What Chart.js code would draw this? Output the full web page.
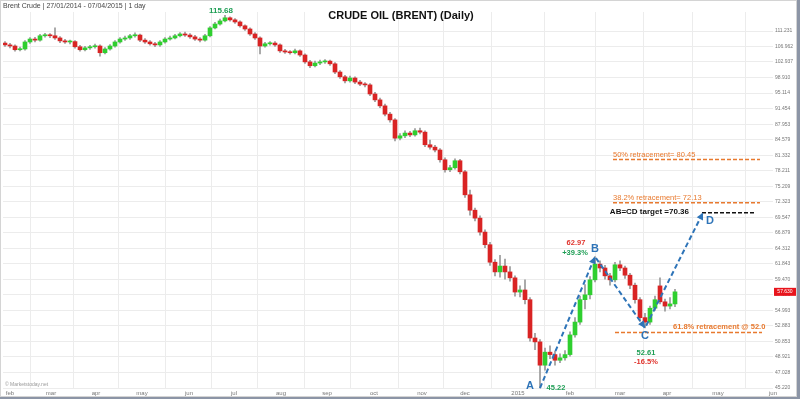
<!DOCTYPE html>
<html>
<head>
<meta charset="utf-8">
<script src="https://cdn.jsdelivr.net/npm/chart.js@4/dist/chart.umd.min.js"></script>
<style>
html,body{margin:0;padding:0;background:#fff}
#wrap{width:800px;height:399px}
</style>
</head>
<body>
<div id="wrap"><canvas id="myChart" width="800" height="399"></canvas></div>
<script>
// daily candles, Brent, 27/01/2014 - 07/04/2015
var opens=[107.9,107.4,107.1,106.1,106.3,108.2,109.0,108.7,109.9,110.1,
109.9,109.3,108.5,108.2,108.3,106.9,106.1,106.6,106.9,107.1,
105.3,106.3,107.1,108.2,109.0,109.3,109.9,110.1,108.7,108.2,
107.7,107.4,108.2,109.0,109.3,109.9,110.4,110.1,109.6,109.0,
108.7,109.9,112.1,113.2,114.1,115.0,114.4,113.8,112.7,111.8,
110.4,109.3,107.1,107.7,107.9,107.4,105.8,105.5,105.3,105.8,
104.7,102.9,101.9,102.6,102.9,103.1,102.4,100.3,99.1,98.1,
98.8,97.8,97.3,97.1,94.9,93.5,92.1,90.2,88.9,84.9,
85.4,86.0,85.6,86.5,86.2,83.5,83.0,82.4,80.4,78.4,
78.8,80.2,78.0,73.6,70.8,69.4,67.0,64.9,62.1,60.6,
61.5,60.6,59.7,57.6,57.9,56.5,51.3,50.8,47.9,49.5,
49.2,48.5,48.8,49.2,51.7,53.4,56.5,57.2,59.4,61.8,
61.2,60.0,59.4,61.7,61.2,60.1,58.6,56.5,54.0,53.4,
55.3,58.5,56.2,55.6,55.9]
var highs=[108.3,107.8,107.4,106.8,108.6,109.4,109.5,110.3,110.6,110.5,
112.1,109.7,108.9,108.7,108.6,107.3,107.0,107.3,107.6,107.4,
106.7,107.5,108.6,109.4,109.8,110.3,110.7,110.4,109.1,108.6,
108.1,108.6,109.4,109.8,110.3,110.8,110.9,110.5,110.0,109.4,
110.3,112.5,113.7,114.6,115.68,115.3,114.8,114.1,113.0,112.1,
110.8,109.6,108.1,108.3,108.3,107.7,106.2,105.9,106.3,106.1,
105.0,103.3,103.1,103.4,103.5,103.4,102.7,100.7,99.5,99.3,
99.1,98.2,97.7,97.4,95.3,93.9,92.5,90.6,89.2,85.9,
86.5,86.4,87.0,87.1,86.5,84.5,83.4,82.7,80.8,79.3,
80.6,80.5,78.3,74.5,71.2,69.8,67.4,65.3,62.5,63.2,
62.6,61.4,60.0,58.5,59.4,56.8,51.9,51.1,50.0,50.3,
49.6,49.3,49.7,52.1,54.0,57.0,58.7,59.9,62.97,62.3,
61.6,60.4,62.1,62.3,61.5,60.4,58.9,56.8,54.6,55.6,
57.0,59.7,56.6,56.8,58.0]
var lows=[107.0,106.6,105.7,105.8,106.0,107.8,108.2,108.4,109.5,109.4,
108.9,108.0,107.8,107.7,106.5,105.7,105.8,106.2,106.5,104.4,
105.0,106.0,106.8,107.9,108.6,108.9,109.5,108.3,107.8,107.3,
106.9,107.0,107.9,108.7,109.0,109.6,109.7,109.2,108.6,108.2,
108.4,109.6,111.8,112.9,113.8,114.0,113.4,112.3,111.4,110.0,
108.9,105.0,106.8,107.3,107.0,105.4,105.1,104.9,105.0,104.3,
102.5,101.4,101.6,102.2,102.5,102.0,99.9,98.7,97.6,97.8,
97.4,96.9,96.6,94.5,93.1,91.7,89.8,88.4,84.3,84.5,
85.0,85.2,85.3,85.8,83.1,82.6,82.0,79.9,77.9,78.0,
78.5,77.6,73.1,69.9,68.9,66.5,64.4,61.6,60.0,59.8,
59.5,59.2,57.0,56.9,55.9,50.9,49.8,45.22,47.3,48.7,
47.9,48.2,48.5,49.0,51.4,53.1,55.2,56.6,59.1,60.6,
59.5,58.6,59.1,60.8,59.6,58.1,56.0,53.5,52.61,53.1,
55.0,55.9,54.9,55.2,55.5]
var closes=[107.4,107.1,106.1,106.3,108.2,109.0,108.7,109.9,110.1,109.9,
109.3,108.5,108.2,108.3,106.9,106.1,106.6,106.9,107.1,105.3,
106.3,107.1,108.2,109.0,109.3,109.9,110.1,108.7,108.2,107.7,
107.4,108.2,109.0,109.3,109.9,110.4,110.1,109.6,109.0,108.7,
109.9,112.1,113.2,114.1,115.0,114.4,113.8,112.7,111.8,110.4,
109.3,107.1,107.7,107.9,107.4,105.8,105.5,105.3,105.8,104.7,
102.9,101.9,102.6,102.9,103.1,102.4,100.3,99.1,98.1,98.8,
97.8,97.3,97.1,94.9,93.5,92.1,90.2,88.9,84.9,85.4,
86.0,85.6,86.5,86.2,83.5,83.0,82.4,80.4,78.4,78.8,
80.2,78.0,73.6,70.8,69.4,67.0,64.9,62.1,60.6,61.5,
60.6,59.7,57.6,57.9,56.5,51.3,50.8,47.9,49.5,49.2,
48.5,48.8,49.2,51.7,53.4,56.5,57.2,59.4,61.8,61.2,
60.0,59.4,61.7,61.2,60.1,58.6,56.5,54.0,53.4,55.3,
56.5,56.2,55.6,55.9,57.63]

var monthPos=[1,9.2,18.2,27.4,36.8,45.8,55.2,64.4,73.8,83.4,92,102.6,113,123,132.4,142.6,153.6]
var monthLabels=['feb','mar','apr','may','jun','jul','aug','sep','oct','nov','dec','2015','feb','mar','apr','may','jun']
var yTicks=[45.220,47.028,48.921,50.853,52.883,54.993,57.186,59.470,61.843,64.312,66.879,69.547,
72.323,75.209,78.211,81.332,84.579,87.953,91.454,95.114,98.910,102.937,106.962,111.231]

var waveNames=['A','B','C','D']
var waveX=[107,118,128,139.6]
var waveY=[45.22,62.97,52.61,70.36]
var fibNames=['50% retracement= 80.45','38.2% retracement= 72.13','61.8% retracement @ 52.0']
var fibLevels=[80.45,72.13,52.0]
var fibFrom=[121.6,121.6,122]
var fibTo=[151,151,151.4]
var targetLevel=70.36, targetFrom=139.4, targetTo=150
var lastPrice=57.63
var highIdx=44, highPrice=115.68

var GREEN='#2fcf2f', RED='#d92424', BLUE='#2e74b8', ORANGE='#e8792e'

var wickData=[], bodyData=[], bodyColors=[]
for(var i=0;i<closes.length;i++){
    wickData.push({x:i,y:[lows[i],highs[i]]})
    bodyData.push({x:i,y:[opens[i],closes[i]]})
    bodyColors.push(closes[i]>=opens[i]?GREEN:RED)
}

var datasets=[
    {type:'bar',data:wickData,backgroundColor:'#999',barThickness:1,grouped:false,order:3},
    {type:'bar',data:bodyData,backgroundColor:bodyColors,barThickness:4,minBarLength:1,grouped:false,order:2},
    {type:'line',data:waveX.map(function(x,i){return {x:x,y:waveY[i]}}),borderColor:BLUE,borderWidth:2,
        borderDash:[5,3],pointRadius:0,fill:false,order:0}
]
fibLevels.forEach(function(v,i){
    datasets.push({type:'line',data:[{x:fibFrom[i],y:v},{x:fibTo[i],y:v}],borderColor:ORANGE,
        borderWidth:1.5,borderDash:[4,2],pointRadius:0,fill:false,order:1})
})
datasets.push({type:'line',data:[{x:targetFrom,y:targetLevel},{x:targetTo,y:targetLevel}],borderColor:'#111',
    borderWidth:1.5,borderDash:[4,2],pointRadius:0,fill:false,order:1})

function txt(ctx,s,x,y,font,color,align){
    ctx.font=font
    ctx.fillStyle=color
    ctx.textAlign=align||'center'
    ctx.textBaseline='middle'
    ctx.fillText(s,x,y)
}

var annot={
    id:'annot',
    afterDatasetsDraw:function(chart){
        var ctx=chart.ctx
        var pts=chart.getDatasetMeta(2).data
        ctx.save()
        ctx.fillStyle=BLUE
        for(var i=1;i<pts.length;i++){
            var a=Math.atan2(pts[i].y-pts[i-1].y,pts[i].x-pts[i-1].x)
            ctx.save()
            ctx.translate(pts[i].x,pts[i].y)
            ctx.rotate(a)
            ctx.beginPath()
            ctx.moveTo(0,0)
            ctx.lineTo(-7,-3.5)
            ctx.lineTo(-7,3.5)
            ctx.closePath()
            ctx.fill()
            ctx.restore()
        }
        ctx.restore()
    },
    afterDraw:function(chart){
        var ctx=chart.ctx, xs=chart.scales.x, ys=chart.scales.y
        var f="'Liberation Sans', Arial, sans-serif"
        ctx.save()
        // frame
        ctx.strokeStyle='#d4d4d4'
        ctx.lineWidth=1
        ctx.strokeRect(0.5,0.5,796,396)
        ctx.fillStyle='#8c95a6'
        ctx.fillRect(797,0,3,399)
        ctx.fillRect(0,397,800,2)

        txt(ctx,'Brent Crude | 27/01/2014 - 07/04/2015 | 1 day',3,6,'7px '+f,'#444','left')
        txt(ctx,'CRUDE OIL (BRENT) (Daily)',401,16,'bold 11px '+f,'#111')
        txt(ctx,'\u00a9 Marketstoday.net',5,385,'5px '+f,'#999','left')

        // swing high
        txt(ctx,highPrice.toFixed(2),xs.getPixelForValue(highIdx)-4,ys.getPixelForValue(highPrice)-5,'bold 8px '+f,'#1f9e55')

        // wave letters and labels
        var px=waveX.map(function(v){return xs.getPixelForValue(v)})
        var py=waveY.map(function(v){return ys.getPixelForValue(v)})
        var lf='bold 11px '+f
        txt(ctx,waveNames[0],px[0]-10,py[0]-2,lf,BLUE)
        txt(ctx,waveNames[1],px[1],py[1]-8,lf,BLUE)
        txt(ctx,waveNames[2],px[2],py[2]+8,lf,BLUE)
        txt(ctx,waveNames[3],px[3]+7,py[3]+8,lf,BLUE)
        var nf='bold 7.5px '+f
        txt(ctx,waveY[0].toFixed(2),px[0]+16,py[0],nf,'#1f9e55')
        txt(ctx,waveY[1].toFixed(2),px[1]-19,py[1]-14,nf,'#e0332c')
        txt(ctx,'+39.3%',px[1]-20,py[1]-4,nf,'#1f9e55')
        txt(ctx,waveY[2].toFixed(2),px[2]+1,py[2]+25,nf,'#1f9e55')
        txt(ctx,'-16.5%',px[2]+1,py[2]+34,nf,'#e0332c')

        // retracement labels
        for(var i=0;i<fibLevels.length;i++){
            var y=ys.getPixelForValue(fibLevels[i])
            var x=xs.getPixelForValue(fibFrom[i])
            if(i<2) txt(ctx,fibNames[i],x,y-5,'7.5px '+f,ORANGE,'left')
            else txt(ctx,fibNames[i],x+58,y-6,'bold 7.5px '+f,ORANGE,'left')
        }
        txt(ctx,'AB=CD target =70.36',xs.getPixelForValue(targetFrom)-13,ys.getPixelForValue(targetLevel)-1,'bold 8px '+f,'#111','right')

        // last price tag
        var ly=ys.getPixelForValue(lastPrice)
        ctx.fillStyle='#e8141c'
        ctx.fillRect(774,ly-4,22,8)
        txt(ctx,lastPrice.toFixed(3),785,ly,'5px '+f,'#fff')
        ctx.restore()
    }
}

var chart=new Chart(document.getElementById('myChart').getContext('2d'),{
    type:'bar',
    data:{datasets:datasets},
    options:{
        responsive:false,
        animation:false,
        devicePixelRatio:1,
        layout:{padding:{left:3,top:12,right:2,bottom:2}},
        plugins:{legend:{display:false},tooltip:{enabled:false}},
        scales:{
            x:{
                type:'linear',min:-0.4,max:153.6,offset:false,
                grid:{color:'#ececec',drawTicks:false},
                border:{display:false},
                ticks:{font:{size:6},color:'#777',padding:1,autoSkip:false,maxRotation:0,
                    callback:function(v,i){return monthLabels[i]}},
                afterBuildTicks:function(s){s.ticks=monthPos.map(function(v){return {value:v}})},
                afterFit:function(s){s.height=8}
            },
            y:{
                type:'logarithmic',position:'right',min:45.11,max:116.69,
                grid:{color:'#ececec',drawTicks:false},
                border:{display:false},
                ticks:{font:{size:5},color:'#777',padding:2,autoSkip:false,
                    callback:function(v){return Number(v).toFixed(3)}},
                afterBuildTicks:function(s){s.ticks=yTicks.map(function(v){return {value:v}})},
                afterFit:function(s){s.height=s.height;s.width=25}
            }
        }
    },
    plugins:[annot]
})
</script>
</body>
</html>
